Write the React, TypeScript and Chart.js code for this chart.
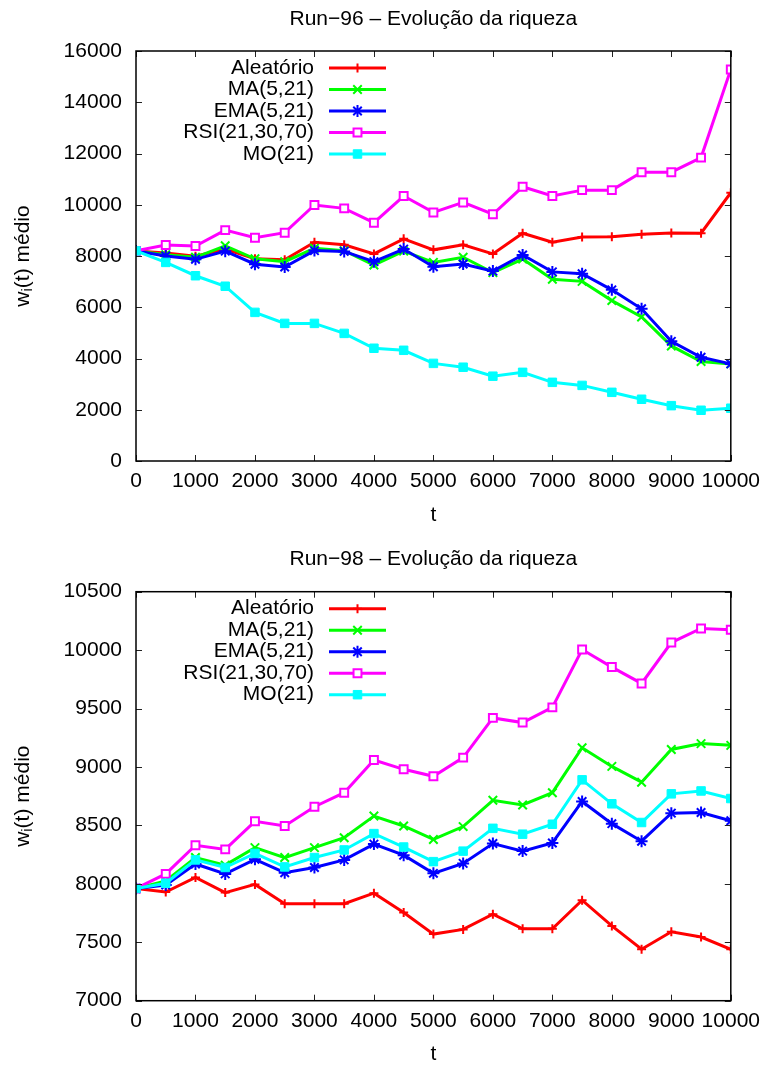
import React, { useEffect, useRef } from 'react';
import { Chart, registerables } from 'chart.js';
import { drawPoint } from 'chart.js/helpers';

Chart.register(...registerables);

const FONT = '"Liberation Sans", Arial, sans-serif';
const FONT_SIZE = 21;

// time steps (t)
const tValues = [0, 500, 1000, 1500, 2000, 2500, 3000, 3500, 4000, 4500, 5000, 5500, 6000, 6500, 7000, 7500, 8000, 8500, 9000, 9500, 10000];

const seriesLabels = ['Aleatório', 'MA(5,21)', 'EMA(5,21)', 'RSI(21,30,70)', 'MO(21)'];

// Run-96
const aleatorio96 = [8200, 8120, 7990, 8270, 7890, 7850, 8540, 8440, 8080, 8670, 8240, 8440, 8080, 8890, 8540, 8740, 8750, 8850, 8900, 8890, 10470];
const ma96 = [8200, 8050, 7950, 8400, 7890, 7780, 8300, 8210, 7650, 8190, 7750, 7950, 7350, 7880, 7090, 7010, 6260, 5620, 4490, 3880, 3790];
const ema96 = [8200, 8000, 7870, 8190, 7680, 7570, 8210, 8180, 7780, 8270, 7580, 7690, 7410, 8040, 7380, 7310, 6680, 5940, 4670, 4050, 3790];
const rsi96 = [8200, 8430, 8390, 9010, 8710, 8910, 9990, 9860, 9300, 10340, 9700, 10090, 9630, 10700, 10340, 10570, 10570, 11270, 11270, 11840, 15280];
const mo96 = [8200, 7750, 7230, 6820, 5800, 5370, 5370, 4980, 4400, 4320, 3810, 3660, 3310, 3460, 3070, 2950, 2680, 2410, 2160, 1980, 2060];

// Run-98
const aleatorio98 = [7960, 7930, 8055, 7925, 7995, 7830, 7830, 7830, 7920, 7755, 7570, 7610, 7740, 7615, 7615, 7860, 7640, 7440, 7590, 7545, 7440];
const ma98 = [7960, 8025, 8225, 8160, 8310, 8225, 8310, 8395, 8580, 8495, 8380, 8490, 8715, 8675, 8780, 9165, 9005, 8870, 9150, 9200, 9185];
const ema98 = [7960, 7990, 8170, 8085, 8210, 8095, 8140, 8205, 8340, 8245, 8090, 8175, 8345, 8280, 8350, 8705, 8515, 8365, 8605, 8610, 8540];
const rsi98 = [7960, 8085, 8330, 8295, 8535, 8495, 8660, 8780, 9060, 8980, 8920, 9080, 9420, 9380, 9510, 10005, 9855, 9715, 10065, 10185, 10175];
const mo98 = [7960, 8005, 8205, 8140, 8260, 8145, 8225, 8290, 8430, 8315, 8190, 8280, 8475, 8425, 8510, 8890, 8685, 8525, 8770, 8795, 8730];

// per-series styling
const seriesColors = ['#ff0000', '#00ff00', '#0000ff', '#ff00ff', '#00ffff'];
const seriesPointStyles = ['cross', 'crossRot', 'star', 'rect', 'rect'];
const seriesPointRadius = [4.5, 6, 6, 5.6, 6];
const seriesPointFill = ['#ff0000', '#00ff00', '#0000ff', '#ffffff', '#00ffff'];
const seriesPointBorder = [2, 2, 2, 2, 1];

const framePlugin = {
  id: 'frame',
  afterDraw(chart: any) {
    const { ctx, chartArea: a, scales } = chart;
    const x = scales.x;
    const y = scales.y;
    ctx.save();
    ctx.strokeStyle = '#222';
    ctx.lineWidth = 1;
    const tl = 6;
    ctx.beginPath();
    x.ticks.forEach((t: any) => {
      const px = Math.round(x.getPixelForValue(t.value)) + 0.5;
      ctx.moveTo(px, a.bottom);
      ctx.lineTo(px, a.bottom - tl);
      ctx.moveTo(px, a.top);
      ctx.lineTo(px, a.top + tl);
    });
    y.ticks.forEach((t: any) => {
      const py = Math.round(y.getPixelForValue(t.value)) + 0.5;
      ctx.moveTo(a.left, py);
      ctx.lineTo(a.left + tl, py);
      ctx.moveTo(a.right, py);
      ctx.lineTo(a.right - tl, py);
    });
    ctx.stroke();
    ctx.strokeStyle = '#000';
    ctx.lineWidth = 1.5;
    ctx.strokeRect(a.left, a.top, a.right - a.left, a.bottom - a.top);
    ctx.restore();
  },
};

const textPlugin = {
  id: 'texts',
  afterDraw(chart: any, _args: any, opts: any) {
    const { ctx, chartArea: a } = chart;
    ctx.save();
    ctx.fillStyle = '#000';
    ctx.font = `${FONT_SIZE}px ${FONT}`;
    ctx.textBaseline = 'middle';

    // title
    ctx.textAlign = 'center';
    ctx.fillText(opts.title, (a.left + a.right) / 2, a.top - 32);

    // x axis title
    ctx.fillText('t', (a.left + a.right) / 2, a.bottom + 54);

    // y axis title: w with subscript i, then "(t) médio"
    const cy = (a.top + a.bottom) / 2;
    ctx.translate(23, cy);
    ctx.rotate(-Math.PI / 2);
    ctx.textAlign = 'left';
    const big = `${FONT_SIZE}px ${FONT}`;
    const small = `${Math.round(FONT_SIZE * 0.7)}px ${FONT}`;
    ctx.font = big;
    const wW = ctx.measureText('w').width;
    const restW = ctx.measureText('(t) médio').width;
    ctx.font = small;
    const iW = ctx.measureText('i').width;
    const total = wW + iW + restW;
    let cx = -total / 2;
    ctx.font = big;
    ctx.fillText('w', cx, 0);
    cx += wW;
    ctx.font = small;
    ctx.fillText('i', cx, 5);
    cx += iW;
    ctx.font = big;
    ctx.fillText('(t) médio', cx, 0);
    ctx.restore();

    // legend
    ctx.save();
    ctx.font = `${FONT_SIZE}px ${FONT}`;
    ctx.textBaseline = 'middle';
    ctx.textAlign = 'right';
    chart.data.datasets.forEach((ds: any, i: number) => {
      const ry = a.top + 17 + i * 21.5;
      ctx.fillStyle = '#000';
      ctx.fillText(ds.label, 314, ry);
      ctx.strokeStyle = ds.borderColor;
      ctx.lineWidth = 3;
      ctx.beginPath();
      ctx.moveTo(329, ry);
      ctx.lineTo(386, ry);
      ctx.stroke();
      ctx.fillStyle = ds.pointBackgroundColor;
      ctx.strokeStyle = ds.borderColor;
      ctx.lineWidth = ds.pointBorderWidth;
      drawPoint(ctx, {
        pointStyle: ds.pointStyle,
        radius: ds.pointRadius,
        borderWidth: ds.pointBorderWidth,
        rotation: 0,
      } as any, 357.5, ry);
    });
    ctx.restore();
  },
};

type RunProps = {
  title: string;
  series: number[][];
  yMin: number;
  yMax: number;
  yStep: number;
  padTop: number;
  xAxisHeight: number;
};

function RunChart({ title, series, yMin, yMax, yStep, padTop, xAxisHeight }: RunProps) {
  const ref = useRef<HTMLCanvasElement>(null);

  useEffect(() => {
    if (!ref.current) return;
    const datasets = series.map((vals, i) => ({
      label: seriesLabels[i],
      data: tValues.map((t, k) => ({ x: t, y: vals[k] })),
      borderColor: seriesColors[i],
      backgroundColor: seriesColors[i],
      borderWidth: 3,
      pointStyle: seriesPointStyles[i],
      pointRadius: seriesPointRadius[i],
      pointBorderWidth: seriesPointBorder[i],
      pointBackgroundColor: seriesPointFill[i],
      pointBorderColor: seriesColors[i],
      tension: 0,
      fill: false,
      order: series.length - 1 - i,
    }));

    const chart = new Chart(ref.current, {
      type: 'line',
      data: { datasets },
      plugins: [framePlugin, textPlugin],
      options: {
        responsive: false,
        animation: false,
        events: [],
        layout: { padding: { top: padTop, right: 32, left: 0, bottom: 0 }, autoPadding: false },
        font: { family: FONT, size: FONT_SIZE },
        plugins: {
          legend: { display: false },
          title: { display: false },
          tooltip: { enabled: false },
          texts: { title },
        } as any,
        scales: {
          x: {
            type: 'linear',
            min: 0,
            max: 10000,
            afterFit: (s: any) => { s.height = xAxisHeight; },
            grid: { display: false, drawTicks: false },
            border: { display: false },
            ticks: {
              stepSize: 1000,
              padding: 8,
              color: '#000',
              maxRotation: 0,
              autoSkip: false,
              font: { family: FONT, size: FONT_SIZE },
              callback: (v: any) => String(v),
            },
          },
          y: {
            type: 'linear',
            min: yMin,
            max: yMax,
            afterFit: (s: any) => { s.width = 136; },
            grid: { display: false, drawTicks: false },
            border: { display: false },
            ticks: {
              stepSize: yStep,
              padding: 14,
              color: '#000',
              font: { family: FONT, size: FONT_SIZE },
              callback: (v: any) => String(v),
            },
          },
        },
      } as any,
    });
    return () => chart.destroy();
  }, []);

  return <canvas ref={ref} width={768} height={533} style={{ display: 'block' }} />;
}

export default function App() {
  return (
    <div style={{ position: 'absolute', left: 0, top: 0, width: 768, height: 1066, background: '#fff' }}>
      <RunChart
        title="Run−96 – Evolução da riqueza"
        series={[aleatorio96, ma96, ema96, rsi96, mo96]}
        yMin={0}
        yMax={16000}
        yStep={2000}
        padTop={51}
        xAxisHeight={72}
      />
      <RunChart
        title="Run−98 – Evolução da riqueza"
        series={[aleatorio98, ma98, ema98, rsi98, mo98]}
        yMin={7000}
        yMax={10500}
        yStep={500}
        padTop={58.7}
        xAxisHeight={65.3}
      />
    </div>
  );
}
